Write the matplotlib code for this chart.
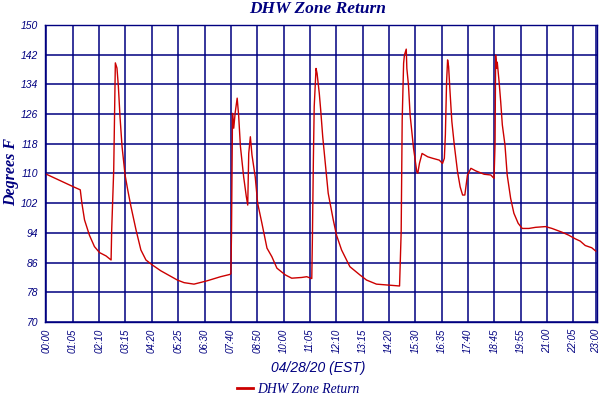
import matplotlib
matplotlib.use('Agg')
import matplotlib.pyplot as plt

# sample index (5 min samples) and temperature
sample_idx = [0, 13.4, 16.7, 17.5, 18.8, 21.2, 23.7, 26.2, 29.4, 31.9,
              32.2, 33.2, 34.0, 34.8, 35.5, 36.3, 37.3, 38.8, 40.1, 41.7,
              44.2, 46.6, 49.1, 52.4, 56.4, 64.6, 67.9, 72.8, 79.3, 85.9,
              90.4, 91.0, 91.3, 91.8, 92.4, 93.1, 94.1, 94.8, 95.7, 97.3,
              98.6, 99.3, 99.8, 100.6, 101.4, 103.0, 104.2, 106.3, 108.8, 111.2,
              113.7, 117.8, 121.0, 126.0, 128.4, 130.9, 131.2, 131.7, 132.1, 133.0,
              133.5, 134.6, 135.3, 136.3, 137.4, 139.0, 141.5, 143.1, 145.6, 149.7,
              154.6, 157.9, 162.8, 169.3, 174.2, 175.0, 175.5, 176.2, 176.6, 177.5,
              177.8, 178.6, 179.4, 180.4, 181.1, 182.0, 182.7, 183.2, 184.0, 185.3,
              188.1, 190.5, 193.8, 195.4, 196.3, 196.8, 197.4, 197.9, 198.4, 199.1,
              200.0, 201.2, 202.8, 204.1, 205.3, 206.4, 207.7, 209.4, 211.8, 215.9,
              219.2, 220.8, 221.3, 221.6, 222.1, 222.4, 223.3, 224.1, 224.9, 226.2,
              227.3, 229.0, 230.6, 232.7, 234.7, 238.0, 241.3, 246.2, 249.4, 254.3,
              257.6, 260.9, 263.3, 265.8, 269.0, 271.0]
temp_f = [109.8, 106.4, 105.6, 102.0, 97.5, 93.4, 90.3, 88.7, 87.8, 86.7,
          94.8, 111.0, 139.8, 138.4, 133.4, 125.3, 117.3, 109.6, 105.6, 101.1,
          94.8, 89.4, 86.7, 85.3, 83.8, 81.3, 80.6, 80.2, 81.1, 82.2,
          82.8, 83.0, 94.0, 126.2, 122.2, 126.3, 130.3, 125.8, 117.3, 109.1,
          103.8, 101.5, 115.4, 119.9, 115.0, 109.1, 102.0, 96.6, 89.9, 87.6,
          84.5, 82.7, 81.8, 82.0, 82.2, 81.7, 92.1, 114.1, 128.0, 138.3,
          137.0, 131.6, 127.1, 119.9, 113.6, 104.7, 97.5, 93.4, 89.4, 84.9,
          82.7, 81.3, 80.2, 79.9, 79.7, 94.3, 124.4, 139.7, 141.9, 143.5,
          138.3, 133.8, 125.8, 120.4, 116.8, 113.2, 110.5, 110.1, 112.7, 115.4,
          114.5, 114.1, 113.6, 112.7, 114.1, 120.4, 134.7, 140.6, 138.8, 132.0,
          124.0, 117.7, 110.5, 106.4, 104.2, 104.2, 109.6, 111.4, 110.7, 109.8,
          109.6, 108.7, 117.7, 141.9, 138.3, 140.0, 134.7, 129.3, 123.1, 117.7,
          109.6, 103.3, 99.3, 96.6, 95.2, 95.2, 95.5, 95.7, 95.2, 94.2,
          93.4, 92.4, 91.8, 90.6, 90.0, 89.1]

tick_pos = [0, 13, 26, 39, 52, 65, 78, 91, 104, 117, 130, 143, 156, 169,
            182, 195, 208, 221, 234, 247, 260, 271]
tick_labels = ['00:00', '01:05', '02:10', '03:15', '04:20', '05:25', '06:30',
               '07:40', '08:50', '10:00', '11:05', '12:10', '13:15', '14:20',
               '15:30', '16:35', '17:40', '18:45', '19:55', '21:00', '22:05', '23:00']
y_ticks = [70, 78, 86, 94, 102, 110, 118, 126, 134, 142, 150]

navy = '#000080'
serif = ['Liberation Serif', 'DejaVu Serif']
sans = ['Liberation Sans', 'DejaVu Sans']

fig = plt.figure(figsize=(6, 4), dpi=100)
ax = fig.add_axes([0.075, 0.195, 0.92, 0.7425])

line, = ax.plot(sample_idx, temp_f, color='#cc0000', linewidth=1.0)

ax.set_xlim(-0.7, 271.6)
ax.set_ylim(70, 150)
ax.set_xticks(tick_pos)
ax.set_xticklabels(tick_labels, rotation=90, fontstyle='italic', family=sans,
                   fontsize=7, color=navy)
ax.set_yticks(y_ticks)
ax.set_yticklabels([str(v) for v in y_ticks], fontstyle='italic', family=sans,
                   fontsize=7.5, color=navy)
ax.tick_params(length=0, pad=5)
ax.grid(True, color=navy, linewidth=1.1)
ax.set_axisbelow(True)
for s in ax.spines.values():
    s.set_color(navy)
    s.set_linewidth(1.0)

fig.text(0.53, 0.977, 'DHW Zone Return', ha='center', va='center', color=navy,
         family=serif, fontstyle='italic', fontweight='bold', fontsize=12.5)
fig.text(0.018, 0.57, 'Degrees F', ha='center', va='center', rotation=90,
         color=navy, family=serif, fontstyle='italic', fontweight='bold', fontsize=11.5)
fig.text(0.53, 0.08, '04/28/20 (EST)', ha='center', va='center', color=navy,
         family=sans, fontstyle='italic', fontsize=10)

fig.legend([line], ['DHW Zone Return'], loc='center', bbox_to_anchor=(0.497, 0.027),
           frameon=False, handlelength=1.2, handletextpad=0.3,
           prop={'family': serif, 'style': 'italic', 'size': 9.8})
for t in fig.legends[0].get_texts():
    t.set_color(navy)
fig.legends[0].get_lines()[0].set_linewidth(2)

fig.savefig('out.png', dpi=100)
